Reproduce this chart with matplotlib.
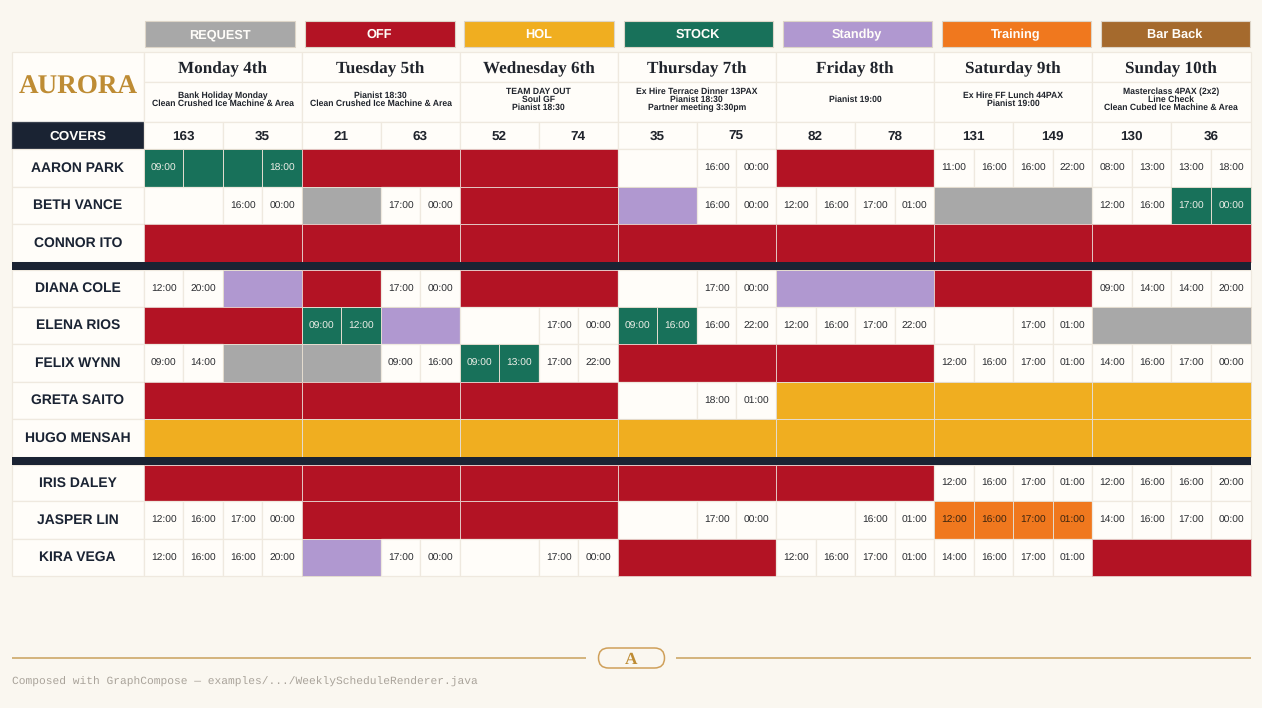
import matplotlib
matplotlib.use('Agg')
import matplotlib.pyplot as plt
from matplotlib.patches import Rectangle, FancyBboxPatch

plt.rcParams['text.hinting'] = 'no_hinting'
plt.rcParams['text.hinting_factor'] = 8

SANS = 'Liberation Sans'
SERIF = 'Liberation Serif'

BG = '#FAF7F0'
CELL = '#FFFDF9'
GRID = '#EFE9DF'
NAVY = '#1A2333'
GOLD = '#BE8C34'

legend_labels = ['REQUEST', 'OFF', 'HOL', 'STOCK', 'Standby', 'Training', 'Bar Back']
legend_codes = ['REQ', 'OFF', 'HOL', 'STK', 'STB', 'TRN', 'BAR']
colors = {'REQ': '#A8A8A8', 'OFF': '#B31324', 'HOL': '#F0AE20', 'STK': '#18715A',
          'STB': '#B098D0', 'TRN': '#F0781E', 'BAR': '#A56A2D'}

days = ['Monday 4th', 'Tuesday 5th', 'Wednesday 6th', 'Thursday 7th',
        'Friday 8th', 'Saturday 9th', 'Sunday 10th']
notes = ['Bank Holiday Monday\nClean Crushed Ice Machine & Area',
         'Pianist 18:30\nClean Crushed Ice Machine & Area',
         'TEAM DAY OUT\nSoul GF\nPianist 18:30',
         'Ex Hire Terrace Dinner 13PAX\nPianist 18:30\nPartner meeting 3:30pm',
         'Pianist 19:00',
         'Ex Hire FF Lunch 44PAX\nPianist 19:00',
         'Masterclass 4PAX (2x2)\nLine Check\nClean Cubed Ice Machine & Area']
covers = [163, 35, 21, 63, 52, 74, 35, 75, 82, 78, 131, 149, 130, 36]

# one string per day, four cells: time, code, code:time, or - for an empty cell
OFF = 'OFF OFF OFF OFF'
HOL = 'HOL HOL HOL HOL'
REQ = 'REQ REQ REQ REQ'
STB = 'STB STB STB STB'

names = ['AARON PARK', 'BETH VANCE', 'CONNOR ITO',
         'DIANA COLE', 'ELENA RIOS', 'FELIX WYNN', 'GRETA SAITO', 'HUGO MENSAH',
         'IRIS DALEY', 'JASPER LIN', 'KIRA VEGA']
shifts = [
    ['STK:09:00 STK STK STK:18:00', OFF, OFF, '- - 16:00 00:00', OFF,
     '11:00 16:00 16:00 22:00', '08:00 13:00 13:00 18:00'],
    ['- - 16:00 00:00', 'REQ REQ 17:00 00:00', OFF, 'STB STB 16:00 00:00',
     '12:00 16:00 17:00 01:00', REQ, '12:00 16:00 STK:17:00 STK:00:00'],
    [OFF, OFF, OFF, OFF, OFF, OFF, OFF],
    ['12:00 20:00 STB STB', 'OFF OFF 17:00 00:00', OFF, '- - 17:00 00:00', STB, OFF,
     '09:00 14:00 14:00 20:00'],
    [OFF, 'STK:09:00 STK:12:00 STB STB', '- - 17:00 00:00', 'STK:09:00 STK:16:00 16:00 22:00',
     '12:00 16:00 17:00 22:00', '- - 17:00 01:00', REQ],
    ['09:00 14:00 REQ REQ', 'REQ REQ 09:00 16:00', 'STK:09:00 STK:13:00 17:00 22:00', OFF, OFF,
     '12:00 16:00 17:00 01:00', '14:00 16:00 17:00 00:00'],
    [OFF, OFF, OFF, '- - 18:00 01:00', HOL, HOL, HOL],
    [HOL, HOL, HOL, HOL, HOL, HOL, HOL],
    [OFF, OFF, OFF, OFF, OFF, '12:00 16:00 17:00 01:00', '12:00 16:00 16:00 20:00'],
    ['12:00 16:00 17:00 00:00', OFF, OFF, '- - 17:00 00:00', '- - 16:00 01:00',
     'TRN:12:00 TRN:16:00 TRN:17:00 TRN:01:00', '14:00 16:00 17:00 00:00'],
    ['12:00 16:00 16:00 20:00', 'STB STB 17:00 00:00', '- - 17:00 00:00', OFF,
     '12:00 16:00 17:00 01:00', '14:00 16:00 17:00 01:00', OFF],
]

# layout in pixels
day_x = [143.5, 301.5, 459.5, 617.5, 776, 934, 1092, 1250.5]
left = 12
row_tops = [149, 186.5, 224, 269.5, 306.5, 344, 381.5, 419, 464.5, 501, 538.5]
row_bottoms = [186.5, 224, 261.5, 306.5, 344, 381.5, 419, 456.5, 501, 538.5, 575.5]
band_y = [(261.5, 269.5), (456.5, 464.5)]
legend_x = [(144.5, 294.5), (304.5, 454.5), (463.5, 613.5), (623.5, 772.5), (782.5, 931.5), (941.5, 1090.5), (1100.5, 1249.5)]
note_step = 8


def sub_edges(d):
    x0, x1 = day_x[d], day_x[d + 1]
    w = (x1 - x0) / 4
    return [x0 + i * w for i in range(5)]


def box(ax, x0, y0, x1, y1, face, edge=GRID, lw=0.9, z=2):
    ax.add_patch(Rectangle((x0, y0), x1 - x0, y1 - y0, facecolor=face,
                           edgecolor=edge, linewidth=lw, zorder=z))


def label(ax, x, y, s, size, color=NAVY, family=SANS, weight='normal', **kw):
    # y is the text baseline, so digits and capitals line up across cells
    ax.text(x, y, s, fontsize=size, color=color, family=family, weight=weight,
            ha='center', va='baseline', zorder=5, **kw)


fig = plt.figure(figsize=(12.62, 7.08), dpi=100, facecolor=BG)
ax = fig.add_axes([0, 0, 1, 1])
ax.set_xlim(0, 1262)
ax.set_ylim(708, 0)
ax.axis('off')

# legend strip
for (x0, x1), text, code in zip(legend_x, legend_labels, legend_codes):
    box(ax, x0, 20.5, x1, 47, colors[code], edge='#DDD5C8', lw=0.8)
    label(ax, (x0 + x1) / 2, 38, text, 9.2, color='#FFFDF9', weight='bold')

# brand and covers label
box(ax, left, 52, day_x[0], 121.5, CELL)
label(ax, (left + day_x[0]) / 2 + 0.6, 93.3, 'AURORA', 19.5, color=GOLD, family=SERIF, weight='bold')
box(ax, left, 121.5, day_x[0], 149, NAVY, edge='#3A4250')
label(ax, (left + day_x[0]) / 2, 139.9, 'COVERS', 9.7, color='#FFFDF9', weight='bold')

# day headers
for d, day in enumerate(days):
    x0, x1 = day_x[d], day_x[d + 1]
    mid = (x0 + x1) / 2
    box(ax, x0, 52, x1, 82, CELL)
    label(ax, mid, 73.3, day, 12.3, color='#20242C', family=SERIF, weight='bold')
    box(ax, x0, 82, x1, 121.5, CELL)
    lines = notes[d].split('\n')
    for i, line in enumerate(lines):
        label(ax, mid, 102 + (i - (len(lines) - 1) / 2) * note_step, line, 6.2,
              color='#20242C', weight='bold')
    for k in range(2):
        box(ax, x0 + k * (x1 - x0) / 2, 121.5, x0 + (k + 1) * (x1 - x0) / 2, 149, CELL)
        label(ax, x0 + (k + 0.5) * (x1 - x0) / 2, 139.9, str(covers[2 * d + k]), 9.7,
              color='#20242C', weight='bold')

# staff rows
for name, row, y0, y1 in zip(names, shifts, row_tops, row_bottoms):
    box(ax, left, y0, day_x[0], y1, CELL)
    label(ax, (left + day_x[0]) / 2, (y0 + y1) / 2 + 3.9, name, 10, weight='bold')
    for d, day_cells in enumerate(row):
        cells = day_cells.split()
        xs = sub_edges(d)
        i = 0
        while i < 4:
            code, _, time = cells[i].partition(':') if cells[i][:3].isalpha() else ('', '', cells[i])
            if time == '-':
                time = ''
            j = i + 1
            # empty and plain coloured cells join up, stock and training stay split
            if not time and code not in ('STK', 'TRN'):
                while j < 4 and cells[j] == cells[i]:
                    j += 1
            if code:
                edge = '#E3C5C2' if code == 'OFF' else '#E4DCCF'
                box(ax, xs[i], y0, xs[j], y1, colors[code], edge=edge, lw=0.7)
            else:
                box(ax, xs[i], y0, xs[j], y1, CELL)
            if time:
                if code == 'TRN':
                    color = '#3A2410'
                elif code:
                    color = '#EFEFE8'
                else:
                    color = '#2A2C30'
                label(ax, (xs[i] + xs[j]) / 2 + 0.4, (y0 + y1) / 2 + 3.5, time, 7.4, color=color)
            i = j

# dark separators
for y0, y1 in band_y:
    box(ax, left, y0, day_x[-1], y1, NAVY, edge=NAVY, lw=0, z=3)

# footer
ax.plot([12, 586], [657.5, 657.5], color='#D3B47C', lw=1.4, solid_capstyle='butt')
ax.plot([676, 1251], [657.5, 657.5], color='#D3B47C', lw=1.4, solid_capstyle='butt')
ax.add_patch(FancyBboxPatch((598.5, 648), 66, 20, boxstyle='round,pad=0,rounding_size=10',
                            facecolor=BG, edgecolor='#CFA05A', lw=1.1))
label(ax, 631.5, 664.5, 'A', 12.5, color=GOLD, family=SERIF, weight='bold')
ax.text(12, 684.5, 'Composed with GraphCompose \u2014 examples/.../WeeklyScheduleRenderer.java',
        fontsize=8.12, color='#A9A39A', family='Liberation Mono', ha='left', va='baseline')

fig.savefig('out.png', dpi=100, facecolor=BG)
